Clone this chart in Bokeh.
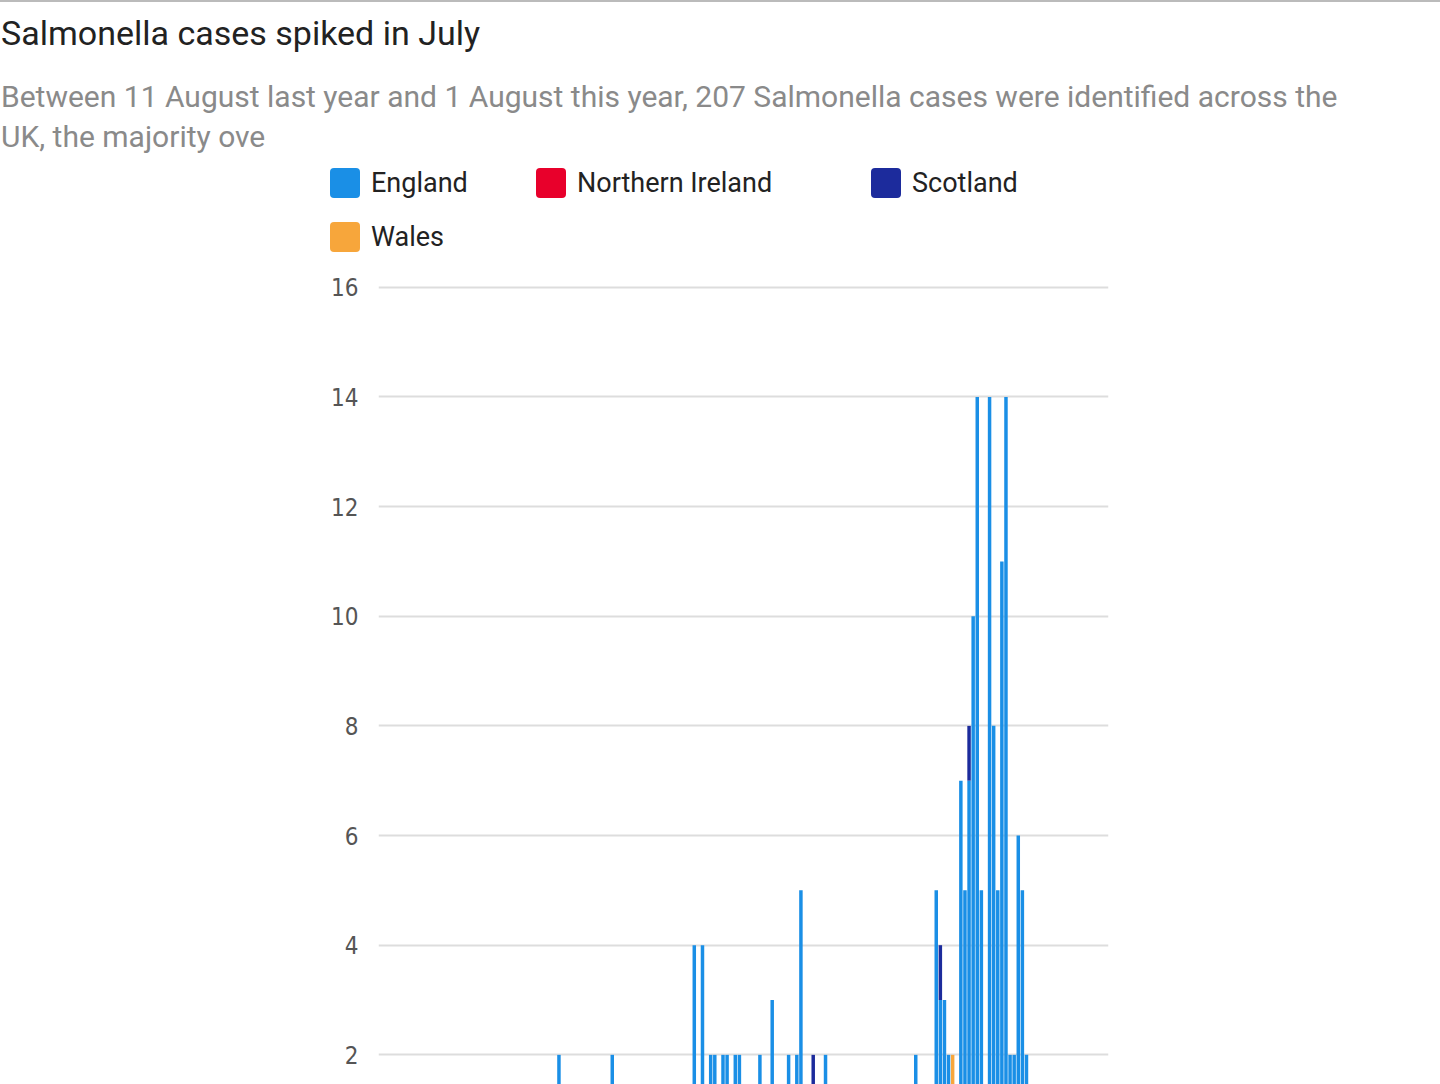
from bokeh.plotting import figure
from bokeh.models import Div, ColumnDataSource, FixedTicker, Range1d
from bokeh.layouts import column
from bokeh.embed import file_html
from bokeh.resources import INLINE

# days since 11 August
days = [88,114,154,158,162,164,168,170,174,176,186,192,200,204,206,212,218,262,
        272,274,276,278,280,284,286,288,290,292,294,298,300,302,304,306,308,310,312,314,316]
england = [2,2,4,4,2,2,2,2,2,2,2,3,2,2,5,0,2,2,
           5,3,3,2,0,7,5,7,10,14,5,14,8,5,11,14,2,2,6,5,2]
northern_ireland = [0]*len(days)
scotland = [0]*len(days)
wales = [0]*len(days)
scotland[days.index(212)] = 2
scotland[days.index(274)] = 1
scotland[days.index(288)] = 1
wales[days.index(280)] = 2
yticks = [0,2,4,6,8,10,12,14,16]

series = ["England", "Northern Ireland", "Scotland", "Wales"]
colors = ["#1a8fe6", "#e8002b", "#1c2b9c", "#f7a63b"]

src = ColumnDataSource(dict(day=days, England=england, **{"Northern Ireland": northern_ireland},
                            Scotland=scotland, Wales=wales))

FONT = "Roboto, 'Noto Sans', sans-serif"
def leg(x, y, c, t):
    return (f'<div style="position:absolute;left:{x}px;top:{y}px;width:30px;height:30px;'
            f'background:{c};border-radius:4px"></div>'
            f'<div style="position:absolute;left:{x+41}px;top:{y-2}px;font-size:27px;color:#222;'
            f'line-height:34px;white-space:nowrap">{t}</div>')

html = (f'<div style="position:relative;width:1440px;height:258px;font-family:{FONT}">'
        '<div style="position:absolute;left:0px;top:0px;width:1440px;height:2px;background:#bbb"></div>'
        '<div style="position:absolute;left:1px;top:13px;font-size:34px;color:#222;white-space:nowrap;line-height:40px">'
        'Salmonella cases spiked in July</div>'
        '<div style="position:absolute;left:1px;top:77px;width:1420px;font-size:30px;color:#8a8a8a;line-height:40px">'
        'Between 11 August last year and 1 August this year, 207 Salmonella cases were identified across the<br>UK, the majority ove</div>'
        + leg(330, 168, colors[0], series[0]) + leg(536, 168, colors[1], series[1])
        + leg(871, 168, colors[2], series[2]) + leg(330, 222, colors[3], series[3]) + '</div>')
header = Div(text=html, width=1440, height=258, margin=0)

p = figure(width=1440, height=966, output_backend="svg", toolbar_location=None,
           x_range=Range1d(0, 356), y_range=Range1d(0, 16.05),
           min_border_left=378, min_border_right=332, min_border_top=26, min_border_bottom=60,
           margin=0)
p.vbar_stack(series, x="day", width=1.7, color=colors, source=src, line_color=None)
p.outline_line_color = None
p.xgrid.grid_line_color = None
p.ygrid.grid_line_color = "#dddddd"
p.ygrid.grid_line_width = 2
p.yaxis.ticker = FixedTicker(ticks=yticks)
p.yaxis.axis_line_color = None
p.yaxis.major_tick_line_color = None
p.yaxis.minor_tick_line_color = None
p.yaxis.major_label_text_font = "'Liberation Sans Narrow', 'DejaVu Sans Condensed', Roboto"
p.yaxis.major_label_text_font_size = "24px"
p.yaxis.major_label_text_color = "#555555"
p.yaxis.major_label_standoff = 14
p.xaxis.visible = False

layout = column(header, p, spacing=0)
open("out.html", "w").write(file_html(layout, INLINE))
